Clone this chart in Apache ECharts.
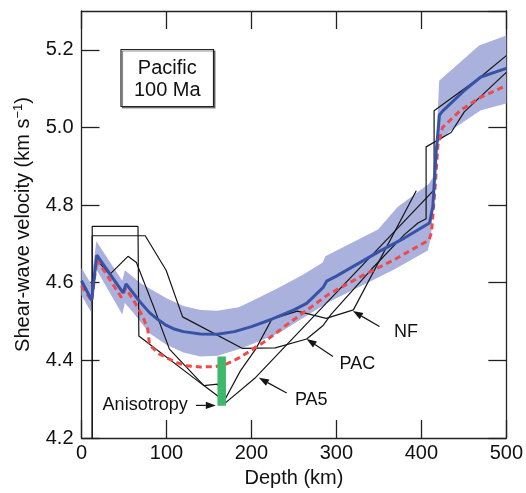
<!DOCTYPE html>
<html>
<head>
<meta charset="utf-8">
<script src="https://cdn.jsdelivr.net/npm/echarts@6/dist/echarts.min.js"></script>
<style>
html,body{margin:0;padding:0;background:#fff;}
#chart{width:526px;height:493px;}
</style>
</head>
<body>
<div id="chart"></div>
<script>
// ---- data: [depth (km), shear-wave velocity (km/s)] ----
const xTicks = [0, 100, 200, 300, 400, 500];
const yTicks = [4.2, 4.4, 4.6, 4.8, 5.0, 5.2];

const meanModel = [[0,4.605],[12,4.555],[18,4.671],[49,4.574],[52.5,4.597],[68,4.553],[80,4.523],[90,4.505],[100,4.49],[110,4.48],[120,4.474],[140,4.468],[160,4.467],[180,4.474],[200,4.487],[224,4.506],[250,4.53],[265,4.547],[284.5,4.588],[288.5,4.604],[300,4.617],[350,4.68],[380,4.715],[409.6,4.754],[413.5,4.796],[417.3,4.933],[421.3,5.032],[425,5.042],[450,5.094],[470,5.13],[500,5.152]];

const bandUpper = [[0,4.638],[11,4.598],[17.5,4.707],[48,4.605],[51,4.632],[70,4.598],[100,4.56],[120,4.54],[140,4.53],[160,4.528],[185,4.537],[200,4.552],[232,4.587],[260,4.62],[284,4.652],[287,4.668],[349,4.737],[372,4.795],[409,4.855],[416,4.88],[421,5.12],[468,5.211],[500,5.237]];

const bandLower = [[0,4.568],[11,4.525],[17.5,4.634],[48,4.518],[51,4.548],[60,4.525],[80,4.47],[100,4.44],[120,4.42],[140,4.41],[160,4.412],[187,4.43],[212,4.452],[232,4.47],[290,4.549],[368,4.634],[407.6,4.683],[411.5,4.72],[415.4,4.865],[419,4.959],[435,4.993],[470,5.044],[500,5.062]];

const refModel = [[0,4.592],[12,4.553],[18,4.66],[47,4.562],[52,4.585],[60.6,4.557],[72,4.514],[78,4.48],[80,4.44],[92,4.416],[111,4.395],[123,4.386],[140,4.383],[158,4.384],[170,4.39],[187,4.408],[216.6,4.45],[240,4.489],[290.6,4.57],[329.6,4.617],[368.6,4.66],[409,4.71],[412,4.73],[416,4.84],[419.5,4.955],[425,5.0],[446,5.044],[470,5.078],[500,5.108]];

const pa5 = [[12.6,4.1],[12.6,4.745],[66.5,4.745],[67.5,4.463],[138.6,4.344],[160,4.309],[168,4.288],[205,4.356],[415,4.839],[415,5.043],[469.6,5.13],[500,5.185]];

const pac = [[12.6,4.1],[12.6,4.721],[75,4.721],[99.6,4.632],[119,4.512],[189,4.431],[228,4.432],[265,4.455],[284,4.489],[294,4.519],[341,4.634],[380,4.724],[396,4.754],[405.6,4.765],[405.6,4.95],[435,4.987],[450.5,5.04],[500,5.142]];

const nf = [[17.8,4.66],[33,4.621],[54.7,4.668],[64.6,4.652],[86,4.532],[103.5,4.429],[144,4.335],[160,4.339],[169,4.30],[187,4.373],[205,4.429],[224,4.506],[254,4.527],[288,4.508],[320,4.53],[394,4.837]];

const anisoDepth = [160, 170];
const anisoVel = [4.283, 4.41];

const arrowLines = [ // [fromDepth, fromVel, toDepth, toVel]
  [350.7,4.487,319.5,4.527],
  [296,4.410,265,4.455],
  [241.5,4.316,208.8,4.355],
  [134.7,4.284,158.1,4.284]
];
const labelNames = ['NF','PAC','PA5','Anisotropy'];
const labelPos = [[381.9,4.4726],[324.8,4.3905],[270.4,4.2977],[74.9,4.2846]];

const boxLines = ['Pacific', '100 Ma'];

// ---- chart ----
const FONT = "'Liberation Sans', Arial, Helvetica, sans-serif";
const AX = '#222';
const chart = echarts.init(document.getElementById('chart'), null, {renderer:'canvas'});

function axisCommon(pos, showLabel) {
  return {
    type:'value', position:pos,
    axisLine:{show:true, onZero:false, lineStyle:{color:AX, width:1.3}},
    axisTick:{show:true, inside:true, length:18, lineStyle:{color:AX, width:1.3}},
    splitLine:{show:false},
    axisLabel:{show:showLabel}
  };
}

const xBottom = Object.assign(axisCommon('bottom', true), {
  min:xTicks[0], max:xTicks[xTicks.length-1], interval:xTicks[1]-xTicks[0],
  axisLabel:{show:true, fontSize:20, color:'#111', fontFamily:FONT, margin:5},
  name:'Depth (km)', nameLocation:'middle', nameGap:30,
  nameTextStyle:{fontSize:20, color:'#111', fontFamily:FONT}
});
const xTop = Object.assign(axisCommon('top', false), {
  min:xTicks[0], max:xTicks[xTicks.length-1], interval:xTicks[1]-xTicks[0]
});
const yLeft = Object.assign(axisCommon('left', true), {
  min:yTicks[0], max:5.3, interval:0.2,
  axisLabel:{show:true, fontSize:20, color:'#111', fontFamily:FONT, margin:8, showMaxLabel:false,
    formatter:v => (Math.abs(v-5.3)<1e-6 ? '' : v.toFixed(1))},
  name:'{a|Shear-wave velocity (km s}{s|−1}{a|)}', nameLocation:'middle', nameGap:48, nameRotate:90,
  nameTextStyle:{color:'#111', fontFamily:FONT, fontSize:20,
    rich:{a:{fontSize:20, fontFamily:FONT, color:'#111', lineHeight:22, verticalAlign:'bottom'},
          s:{fontSize:13, fontFamily:FONT, color:'#111', lineHeight:22, verticalAlign:'top', padding:[0,0,8,0]}}}
});
const yRight = Object.assign(axisCommon('right', false), {min:yTicks[0], max:5.3, interval:0.2});

function blackLine(name, data) {
  return {name, type:'line', data, xAxisIndex:0, yAxisIndex:0, symbol:'none', z:3,
    lineStyle:{color:'#151515', width:1.2}, silent:true, clip:true};
}

chart.setOption({
  animation:false,
  backgroundColor:'#fff',
  grid:{left:81.5, right:17, top:11, bottom:53.7, containLabel:false},
  xAxis:[xBottom, xTop],
  yAxis:[yLeft, yRight],
  series:[
    {type:'custom', name:'band', silent:true, z:1, data:[[0,4.6]],
     renderItem:(params, api) => {
       const pts = bandUpper.map(p => api.coord(p)).concat(bandLower.slice().reverse().map(p => api.coord(p)));
       return {type:'polygon', shape:{points:pts}, style:{fill:'#aab1dc'}};
     }},
    blackLine('PA5', pa5),
    blackLine('PAC', pac),
    blackLine('NF', nf),
    {name:'ref', type:'line', data:refModel, symbol:'none', z:4, silent:true,
     lineStyle:{color:'#f24848', width:3, type:[6,4]}},
    {name:'mean', type:'line', data:meanModel, symbol:'none', z:5, silent:true,
     lineStyle:{color:'#3653a8', width:3}},
    {type:'custom', name:'anisotropy', silent:true, z:6, data:[[anisoDepth[0], anisoVel[0]]],
     renderItem:(params, api) => {
       const a = api.coord([anisoDepth[0], anisoVel[1]]);
       const b = api.coord([anisoDepth[1], anisoVel[0]]);
       return {type:'rect', shape:{x:a[0], y:a[1], width:b[0]-a[0], height:b[1]-a[1]}, style:{fill:'#3fb86e'}};
     }},
    {type:'custom', name:'arrows', silent:true, z:7, data:arrowLines,
     encode:{x:[0,2], y:[1,3]},
     renderItem:(params, api) => {
       const p1 = api.coord([api.value(0), api.value(1)]);
       const p2 = api.coord([api.value(2), api.value(3)]);
       const dx = p2[0]-p1[0], dy = p2[1]-p1[1];
       const L = Math.sqrt(dx*dx+dy*dy), ux = dx/L, uy = dy/L;
       const hl = 10, hw = 3.6;
       const bx = p2[0]-ux*hl, by = p2[1]-uy*hl;
       return {type:'group', children:[
         {type:'line', shape:{x1:p1[0], y1:p1[1], x2:bx, y2:by}, style:{stroke:'#151515', lineWidth:1.2}},
         {type:'polygon', shape:{points:[[p2[0],p2[1]],[bx-uy*hw, by+ux*hw],[bx+uy*hw, by-ux*hw]]}, style:{fill:'#151515'}}
       ]};
     }},
    {type:'custom', name:'labels', silent:true, z:8, data:labelPos,
     renderItem:(params, api) => {
       const p = api.coord([api.value(0), api.value(1)]);
       return {type:'text', x:p[0], y:p[1], style:{text:labelNames[params.dataIndex], fontSize:18,
         fontFamily:FONT, fill:'#111', align:'center', verticalAlign:'middle'}};
     }}
  ],
  graphic:[
    {type:'rect', z:10, shape:{x:121, y:49.5, width:92.5, height:57},
     style:{fill:'#fff', stroke:'#222', lineWidth:1.2, shadowColor:'rgba(0,0,0,0.45)', shadowOffsetX:1.5, shadowOffsetY:1.5, shadowBlur:0}},
    {type:'text', z:11, x:167.3, y:68, style:{text:boxLines[0], fontSize:20, fontFamily:FONT, fill:'#111', align:'center', verticalAlign:'middle'}},
    {type:'text', z:11, x:167.3, y:90, style:{text:boxLines[1], fontSize:20, fontFamily:FONT, fill:'#111', align:'center', verticalAlign:'middle'}}
  ]
});
</script>
</body>
</html>
